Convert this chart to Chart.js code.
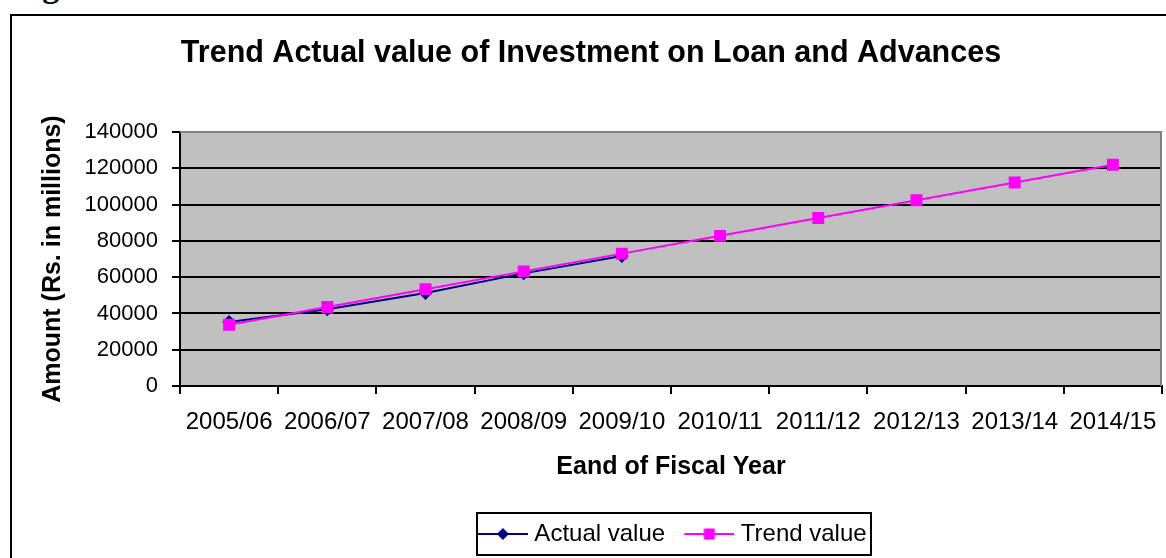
<!DOCTYPE html>
<html>
<head>
<meta charset="utf-8">
<script src="https://cdn.jsdelivr.net/npm/chart.js@4"></script>
<style>
  body { margin: 0; background: #fff; overflow: hidden; }
  #caption { position: absolute; left: 12px; top: -31px; font: bold 34px/34px 'Liberation Serif', serif; }
  #frame { position: absolute; left: 10px; top: 14px; width: 1200px; height: 600px; border: 2px solid #000; }
  #chart { position: absolute; left: 0; top: 0; }
</style>
</head>
<body>
<div id="caption">Figure</div>
<div id="frame"></div>
<canvas id="chart" width="1166" height="558"></canvas>
<script>
const years = ['2005/06', '2006/07', '2007/08', '2008/09', '2009/10',
               '2010/11', '2011/12', '2012/13', '2013/14', '2014/15'];
const actualValues = [35300, 42300, 51300, 62100, 71700];
const trendValues = [33800, 43600, 53400, 63200, 73000, 82800, 92600, 102400, 112200, 122000];
const yMax = 140000;
const yStep = 20000;

const NAVY = '#000080';
const MAGENTA = '#FF00FF';

Chart.defaults.font.family = "'Liberation Sans', Arial, sans-serif";
Chart.defaults.color = '#000';

// little line-with-marker pictures for the legend (line runs 8..58, marker at 33)
function legendIcon(color, shape) {
    const c = document.createElement('canvas');
    c.width = 58;
    c.height = 16;
    const g = c.getContext('2d');
    g.strokeStyle = color;
    g.lineWidth = 2;
    g.beginPath();
    g.moveTo(8, 8);
    g.lineTo(58, 8);
    g.stroke();
    g.fillStyle = color;
    g.beginPath();
    if (shape === 'diamond') {
        g.moveTo(33, 2); g.lineTo(39, 8); g.lineTo(33, 14); g.lineTo(27, 8);
    } else {
        g.rect(27.5, 2.5, 11, 11);
    }
    g.fill();
    return c;
}
const icons = [legendIcon(NAVY, 'diamond'), legendIcon(MAGENTA, 'square')];

// grey plot area with a darker frame on top and right, plus the legend box
const plotArea = {
    id: 'plotArea',
    beforeDraw(chart) {
        const {ctx, chartArea: a} = chart;
        ctx.save();
        ctx.fillStyle = '#C0C0C0';
        ctx.fillRect(a.left, a.top, a.right - a.left, a.bottom - a.top);
        ctx.restore();
    },
    beforeDatasetsDraw(chart) {
        const {ctx, chartArea: a} = chart;
        ctx.save();
        ctx.strokeStyle = '#808080';
        ctx.lineWidth = 2;
        ctx.beginPath();
        ctx.moveTo(a.left, a.top);
        ctx.lineTo(a.right - 1, a.top);
        ctx.lineTo(a.right - 1, a.bottom);
        ctx.stroke();
        ctx.restore();
    },
    afterDraw(chart) {
        const lg = chart.legend;
        const boxes = lg.legendHitBoxes;
        if (!boxes || !boxes.length) return;
        const first = boxes[0];
        const last = boxes[boxes.length - 1];
        const left = Math.round(first.left + 2);
        const right = Math.round(last.left + last.width + 4.5);
        const ctx = chart.ctx;
        ctx.save();
        ctx.strokeStyle = '#000';
        ctx.lineWidth = 2;
        ctx.strokeRect(left, lg.top + 1, right - left, lg.height - 2);
        ctx.restore();
    }
};

new Chart(document.getElementById('chart'), {
    type: 'line',
    data: {
        labels: years,
        datasets: [{
            label: 'Actual value',
            data: actualValues,
            borderColor: NAVY,
            backgroundColor: NAVY,
            borderWidth: 2,
            pointStyle: 'rectRot',
            pointRadius: 5.5,
            pointHoverRadius: 5.5,
            order: 1
        }, {
            label: 'Trend value',
            data: trendValues,
            borderColor: MAGENTA,
            backgroundColor: MAGENTA,
            borderWidth: 2,
            pointStyle: 'rect',
            pointRadius: 7,
            pointHoverRadius: 7,
            order: 0
        }]
    },
    options: {
        responsive: false,
        animation: false,
        layout: {
            autoPadding: false,
            padding: { left: 20, right: 4, top: 16, bottom: 2 }
        },
        plugins: {
            title: {
                display: true,
                text: 'Trend Actual value of Investment on Loan and Advances',
                font: { size: 30.5, weight: 'bold' },
                padding: { top: 19.5, bottom: 60 }
            },
            legend: {
                position: 'bottom',
                fullSize: false,
                labels: {
                    usePointStyle: true,
                    pointStyleWidth: 47,
                    padding: 10,
                    font: { size: 24 },
                    sort: (a, b) => a.datasetIndex - b.datasetIndex,
                    generateLabels(chart) {
                        const items = Chart.defaults.plugins.legend.labels.generateLabels(chart);
                        items.forEach(it => {
                            it.pointStyle = icons[it.datasetIndex];
                            if (it.datasetIndex === 0) it.text += ' ';
                        });
                        return items;
                    }
                }
            },
            tooltip: { enabled: false }
        },
        scales: {
            x: {
                offset: true,
                afterFit(scale) { scale.height = 126; },
                grid: {
                    offset: true,
                    drawOnChartArea: false,
                    drawTicks: true,
                    tickLength: 8,
                    color: '#000',
                    lineWidth: 2
                },
                border: { color: '#000', width: 2 },
                // small padding keeps the end labels from squeezing the plot;
                // the taller line height pushes the labels down instead
                ticks: {
                    font: { size: 24, lineHeight: 1.6 },
                    padding: 9,
                    maxRotation: 0,
                    autoSkip: false
                },
                title: {
                    display: true,
                    text: 'Eand of Fiscal Year',
                    font: { size: 25, weight: 'bold' },
                    padding: { top: 0, bottom: 30 }
                }
            },
            y: {
                min: 0,
                max: yMax,
                afterFit(scale) { scale.width = 160; },
                ticks: {
                    stepSize: yStep,
                    font: { size: 22 },
                    padding: 14,
                    callback: v => String(v)
                },
                grid: {
                    color: ctx => (ctx.tick && ctx.tick.value === yMax) ? '#808080' : '#000',
                    tickColor: '#000',
                    lineWidth: 2,
                    tickLength: 8
                },
                border: { color: '#000', width: 2 },
                title: {
                    display: true,
                    text: 'Amount (Rs. in millions)',
                    font: { size: 25, weight: 'bold' },
                    padding: { top: 18, bottom: 0 }
                }
            }
        }
    },
    plugins: [plotArea]
});
</script>
</body>
</html>
